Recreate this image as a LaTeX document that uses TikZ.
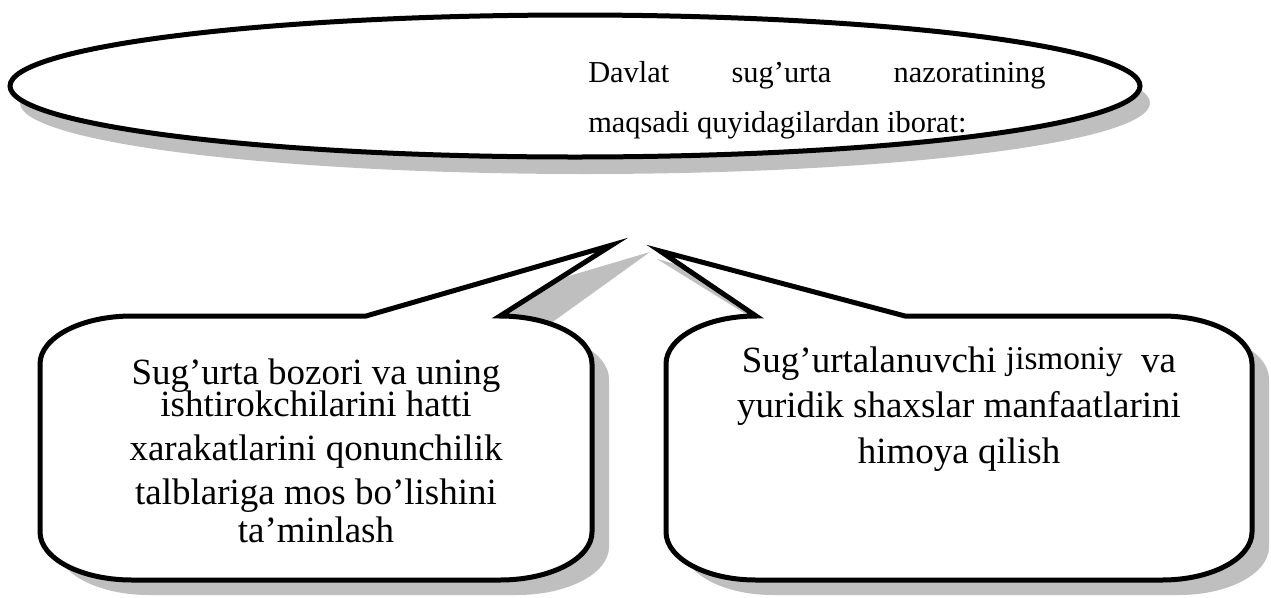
\documentclass[tikz,border=0pt]{standalone}
\usepackage{fontspec}
\setmainfont{Liberation Serif}
\begin{document}
\begin{tikzpicture}[x=0.75pt,y=0.75pt,yscale=-1,xscale=1,
    outline/.style={line width=3.75pt, fill=white},
    shadowfill/.style={fill=black!25},
    boxtext/.style={align=center, inner sep=0pt, anchor=base, font=\fontsize{27.75}{33}\selectfont}]
\useasboundingbox (0,0) rectangle (1271,597);

%Shape: Ellipse shadow
\fill [shadowfill] (585,103) ellipse [x radius=565, y radius=71];
%Shape: Ellipse
\draw [outline] (575,86) ellipse [x radius=565, y radius=71];

%Shape: Callout shadow (left)
\fill [shadowfill] (383,331) -- (650,252) -- (540,331) -- (517,331) .. controls (567.8,331) and (609,352.5) .. (609,379) -- (609,547) .. controls (609,573.5) and (567.8,595) .. (517,595) -- (149,595) .. controls (98.2,595) and (57,573.5) .. (57,547) -- (57,379) .. controls (57,352.5) and (98.2,331) .. (149,331) -- cycle ;
%Shape: Callout (left)
\draw [outline] (366,316) -- (612,245) -- (500,316) .. controls (550.8,316) and (592,337.5) .. (592,364) -- (592,532) .. controls (592,558.5) and (550.8,580) .. (500,580) -- (132,580) .. controls (81.2,580) and (40,558.5) .. (40,532) -- (40,364) .. controls (40,337.5) and (81.2,316) .. (132,316) -- cycle ;

%Shape: Callout shadow (right)
\fill [shadowfill] (773,331) -- (657,259) -- (922,331) -- (1179,331) .. controls (1228.7,331) and (1269,352.5) .. (1269,379) -- (1269,547) .. controls (1269,573.5) and (1228.7,595) .. (1179,595) -- (773,595) .. controls (723.3,595) and (683,573.5) .. (683,547) -- (683,379) .. controls (683,352.5) and (723.3,331) .. (773,331) -- cycle ;
%Shape: Callout (right)
\draw [outline] (756,316) -- (660,251) -- (905,316) -- (1162,316) .. controls (1211.7,316) and (1252,337.5) .. (1252,364) -- (1252,532) .. controls (1252,558.5) and (1211.7,580) .. (1162,580) -- (756,580) .. controls (706.3,580) and (666,558.5) .. (666,532) -- (666,364) .. controls (666,337.5) and (706.3,316) .. (756,316) -- cycle ;

% Text Node
\node (maqsad) [font=\fontsize{22.8}{37.5}\selectfont, text width=343pt, align=justify, inner sep=0pt, anchor=base west] at (588,82) {Davlat sug’urta nazoratining\linebreak maqsadi quyidagilardan iborat:};
% Text Node
\node (bozor) [boxtext] at (316,542) {Sug’urta bozori va uning\\[-9pt] ishtirokchilarini hatti\\ xarakatlarini qonunchilik\\ talblariga mos bo’lishini\\[-5pt] ta’minlash};
% Text Node
\node (himoya) [boxtext, font=\fontsize{27.75}{34}\selectfont] at (959,463) {Sug’urtalanuvchi \raisebox{2.5pt}{\fontsize{25}{25}\selectfont jismoniy}\ \ va\\ yuridik shaxslar manfaatlarini\\ himoya qilish};

\end{tikzpicture}
\end{document}
